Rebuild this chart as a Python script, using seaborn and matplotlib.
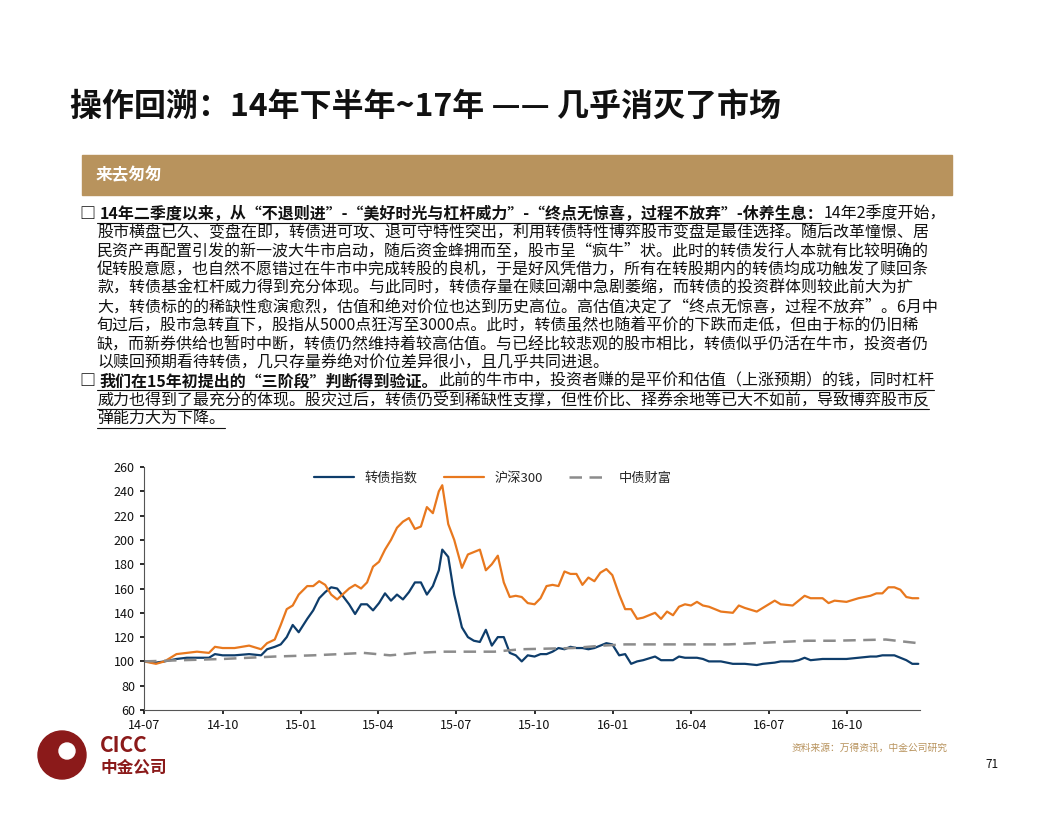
import matplotlib
matplotlib.use("Agg")
import matplotlib.pyplot as plt
import matplotlib.dates as mdates
import seaborn as sns
import pandas as pd
from matplotlib.patches import Rectangle, Ellipse

sns.set_theme(style="white")
plt.rcParams['font.family'] = ['Noto Sans CJK SC', 'DejaVu Sans']

dates = ["2014-07-01","2014-07-15","2014-07-25","2014-08-08","2014-08-20","2014-09-01","2014-09-15","2014-09-22","2014-10-01","2014-10-15","2014-11-01","2014-11-15","2014-11-22","2014-12-01","2014-12-08","2014-12-15","2014-12-22","2014-12-29",
"2015-01-08","2015-01-15","2015-01-22","2015-01-29","2015-02-05","2015-02-12","2015-02-26","2015-03-05","2015-03-12","2015-03-19","2015-03-26","2015-04-02","2015-04-09","2015-04-16","2015-04-23","2015-04-30","2015-05-07","2015-05-14","2015-05-21","2015-05-28","2015-06-04","2015-06-11","2015-06-15","2015-06-22","2015-06-29","2015-07-08","2015-07-15","2015-07-22","2015-07-29","2015-08-05","2015-08-12","2015-08-19","2015-08-26","2015-09-02","2015-09-09","2015-09-16","2015-09-23","2015-10-01","2015-10-08","2015-10-15","2015-10-22","2015-10-29","2015-11-05","2015-11-12","2015-11-19","2015-11-26","2015-12-03","2015-12-10","2015-12-17","2015-12-24","2015-12-31",
"2016-01-08","2016-01-15","2016-01-22","2016-01-29","2016-02-05","2016-02-19","2016-02-26","2016-03-04","2016-03-11","2016-03-18","2016-03-25","2016-04-01","2016-04-08","2016-04-15","2016-04-22","2016-04-29","2016-05-06","2016-05-20","2016-05-27","2016-06-03","2016-06-17","2016-06-24","2016-07-08","2016-07-15","2016-07-29","2016-08-05","2016-08-12","2016-08-19","2016-09-02","2016-09-09","2016-09-16","2016-09-30","2016-10-14","2016-10-28","2016-11-04","2016-11-11","2016-11-18","2016-11-25","2016-12-02","2016-12-09","2016-12-16","2016-12-23"]
hs300 = [100,98,100,106,107,108,107,112,111,111,113,110,115,118,130,143,146,155,
162,162,166,163,155,151,160,163,160,165,178,182,192,200,210,215,218,209,211,227,222,240,245,213,200,177,188,190,192,175,180,187,165,153,154,153,148,147,152,162,163,162,174,172,172,163,169,166,173,176,171,
155,143,143,135,136,140,135,141,138,145,147,146,149,146,145,143,141,140,146,144,141,144,150,147,146,150,154,152,152,148,150,149,152,154,156,156,161,161,159,153,152,152]
cb = [100,99,100,102,103,103,103,106,105,105,106,105,110,112,114,120,130,124,
135,142,152,157,161,160,147,139,147,147,142,148,156,150,155,151,157,165,165,155,162,175,192,186,155,128,120,117,116,126,113,120,120,107,105,100,105,104,106,106,108,111,110,112,111,111,110,111,113,115,114,
105,106,98,100,101,104,101,101,101,104,103,103,103,102,100,100,100,98,98,98,97,98,99,100,100,101,103,101,102,102,102,102,103,104,104,105,105,105,103,101,98,98]
bond_dates = ["2014-07-01","2014-08-15","2014-10-01","2014-12-01","2015-01-15","2015-02-15","2015-03-15","2015-04-15","2015-05-15","2015-06-15","2015-08-15","2015-09-15","2015-11-15","2015-12-20","2016-01-15","2016-04-15","2016-05-15","2016-06-15","2016-07-15","2016-08-15","2016-09-15","2016-11-15","2016-12-10","2016-12-23"]
bond = [100,101,102,104,105,106,107,105,107,108,108,110,111,113,114,114,114,115,116,117,117,118,116,115]

fig = plt.figure(figsize=(10.56, 8.16), dpi=100)
W, H = 1056, 816
def fx(x): return x / W
def fy(y): return 1 - y / H

fig.text(fx(70), fy(107), "操作回溯：14年下半年~17年 —— 几乎消灭了市场", fontsize=23, fontweight='bold', va='center', color='#111111')
fig.patches.append(Rectangle((fx(82), fy(195)), fx(952) - fx(82), (195 - 155) / H, transform=fig.transFigure, color='#B8935D', zorder=0))
fig.text(fx(96), fy(175), "来去匆匆", fontsize=12, fontweight='bold', color='white', va='center')

fig.canvas.draw()
r = fig.canvas.get_renderer()
def seg_line(x, y, segs, fs=11.5):
    for txt, bold in segs:
        t = fig.text(fx(x), fy(y), txt, fontsize=fs, fontweight='bold' if bold else 'normal', va='center', color='#111111')
        bb = t.get_window_extent(r)
        x += bb.width
    return x

lines = [
 (80, [("□ ", True), ("14年二季度以来，从“不退则进”-“美好时光与杠杆威力”-“终点无惊喜，过程不放弃”-休养生息：", True), ("14年2季度开始，", False)]),
 (97, [("股市横盘已久、变盘在即，转债进可攻、退可守特性突出，利用转债特性博弈股市变盘是最佳选择。随后改革憧憬、居", False)]),
 (97, [("民资产再配置引发的新一波大牛市启动，随后资金蜂拥而至，股市呈“疯牛”状。此时的转债发行人本就有比较明确的", False)]),
 (97, [("促转股意愿，也自然不愿错过在牛市中完成转股的良机，于是好风凭借力，所有在转股期内的转债均成功触发了赎回条", False)]),
 (97, [("款，转债基金杠杆威力得到充分体现。与此同时，转债存量在赎回潮中急剧萎缩，而转债的投资群体则较此前大为扩", False)]),
 (97, [("大，转债标的的稀缺性愈演愈烈，估值和绝对价位也达到历史高位。高估值决定了“终点无惊喜，过程不放弃”。6月中", False)]),
 (97, [("旬过后，股市急转直下，股指从5000点狂泻至3000点。此时，转债虽然也随着平价的下跌而走低，但由于标的仍旧稀", False)]),
 (97, [("缺，而新券供给也暂时中断，转债仍然维持着较高估值。与已经比较悲观的股市相比，转债似乎仍活在牛市，投资者仍", False)]),
 (97, [("以赎回预期看待转债，几只存量券绝对价位差异很小，且几乎共同进退。", False)]),
 (80, [("□ ", True), ("我们在15年初提出的“三阶段”判断得到验证。", True), ("此前的牛市中，投资者赚的是平价和估值（上涨预期）的钱，同时杠杆", False)]),
 (97, [("威力也得到了最充分的体现。股灾过后，转债仍受到稀缺性支撑，但性价比、择券余地等已大不如前，导致博弈股市反", False)]),
 (97, [("弹能力大为下降。", False)]),
]
y0 = 214
for i, (x, segs) in enumerate(lines):
    y = y0 + i * 18.6
    xe = seg_line(x, y, segs)
    if i >= 9:
        fig.add_artist(plt.Line2D([fx(97), fx(xe)], [fy(y + 9), fy(y + 9)], transform=fig.transFigure, color='#111111', lw=0.8))
    if i == 0:
        fig.add_artist(plt.Line2D([fx(97), fx(xe - 125)], [fy(y + 9), fy(y + 9)], transform=fig.transFigure, color='#111111', lw=0.8))

ax = fig.add_axes([fx(144), fy(710), fx(920) - fx(144), (710 - 467) / H])
df = pd.DataFrame({"date": pd.to_datetime(dates), "转债指数": cb, "沪深300": hs300})
bdf = pd.DataFrame({"date": pd.to_datetime(bond_dates), "中债财富": bond})
sns.lineplot(data=df, x="date", y="转债指数", ax=ax, color='#0E3D6B', lw=1.6, label="转债指数")
sns.lineplot(data=df, x="date", y="沪深300", ax=ax, color='#E8781E', lw=1.6, label="沪深300")
sns.lineplot(data=bdf, x="date", y="中债财富", ax=ax, color='#8C8C8C', lw=1.8, ls=(0, (5, 3)), label="中债财富")
ax.set_ylim(60, 260)
ax.set_yticks(range(60, 261, 20))
ax.set_xlim(pd.Timestamp("2014-07-01"), pd.Timestamp("2016-12-25"))
ticks = pd.to_datetime(["2014-07-01","2014-10-01","2015-01-01","2015-04-01","2015-07-01","2015-10-01","2016-01-01","2016-04-01","2016-07-01","2016-10-01"])
ax.set_xticks(ticks)
ax.xaxis.set_major_formatter(mdates.DateFormatter('%y-%m'))
ax.set_xlabel(""); ax.set_ylabel("")
for s in ['top', 'right']:
    ax.spines[s].set_visible(False)
for s in ['left', 'bottom']:
    ax.spines[s].set_color('#555555'); ax.spines[s].set_linewidth(0.8)
ax.tick_params(axis='both', labelsize=9, colors='#111111', length=3, direction='out', left=True, bottom=True)
ax.legend(loc='upper center', bbox_to_anchor=(0.45, 1.03), ncol=3, frameon=False, fontsize=9.5, handlelength=3)

# logo
fig.patches.append(Ellipse((fx(62), fy(755)), 48 / W, 48 / H, transform=fig.transFigure, color='#8B1A1A'))
fig.patches.append(Ellipse((fx(67), fy(751)), 16 / W, 16 / H, transform=fig.transFigure, color='white'))
fig.text(fx(100), fy(746), "CICC", fontsize=15, fontweight='bold', color='#8B1A1A', va='center')
fig.text(fx(100), fy(768), "中金公司", fontsize=12, fontweight='bold', color='#8B1A1A', va='center')
fig.text(fx(948), fy(748), "资料来源：万得资讯，中金公司研究", fontsize=7, color='#B8935D', style='italic', ha='right', va='center')
fig.text(fx(985), fy(765), "71", fontsize=8.5, color='#111111', va='center')

fig.savefig("out.png", dpi=100)
